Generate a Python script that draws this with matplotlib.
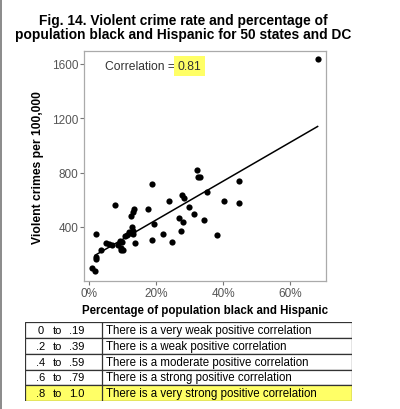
import matplotlib
matplotlib.use('Agg')
import matplotlib.pyplot as plt
import numpy as np
from matplotlib.patches import Rectangle

plt.rcParams['font.family'] = ['Liberation Sans', 'DejaVu Sans']

# データ
pct_black_hispanic = [1.0, 1.7, 2.0, 2.2, 2.2, 3.6, 5.0, 7.0, 7.8, 8.6,
                      9.1, 9.4, 9.9, 10.2, 11.2, 12.2, 12.6, 13.0, 13.4, 12.9,
                      13.2, 13.0, 13.7, 17.5, 18.7, 19.4, 18.8, 22.0, 23.9, 24.7,
                      26.7, 27.4, 28.1, 27.7, 28.3, 29.9, 31.2, 34.3, 35.1, 38.1,
                      40.4, 44.8, 44.6, 32.3, 32.4, 33.2, 68.2, 10.7, 6.0, 11.8, 9.6]
violent_crime = [100, 76, 178, 160, 344, 227, 277, 263, 559, 266,
                 298, 227, 290, 232, 340, 352, 478, 507, 534, 398,
                 372, 344, 283, 534, 714, 422, 304, 350, 592, 286,
                 466, 369, 439, 634, 614, 546, 492, 453, 658, 336,
                 588, 574, 734, 819, 765, 765, 1635, 332, 272, 360, 245]

corr_label = '0.81'
table_ranges = [('0', '.19'), ('.2', '.39'), ('.4', '.59'), ('.6', '.79'), ('.8', '1.0')]
table_text = ['There is a very weak positive correlation',
              'There is a weak positive correlation',
              'There is a moderate positive correlation',
              'There is a strong positive correlation',
              'There is a very strong positive correlation']
highlight_row = 4

YELLOW = '#ffff66'
GREY = '#555555'

fig = plt.figure(figsize=(4, 4.1), dpi=100)

# タイトル
fig.text(0.458, 0.966, 'Fig. 14. Violent crime rate and percentage of\n'
         'population black and Hispanic for 50 states and DC',
         ha='center', va='top', fontsize=9.9, fontweight='bold', linespacing=1.0)

# 散布図
ax = fig.add_axes([0.21, 0.312, 0.605, 0.561])
x = np.array(pct_black_hispanic)
y = np.array(violent_crime)
ax.scatter(x, y, s=20, color='black', zorder=3, linewidths=0)

# 回帰直線
slope, intercept = np.polyfit(x, y, 1)
xl = np.array([1.8, x.max()])
ax.plot(xl, slope * xl + intercept, color='black', lw=1.1, zorder=2)

ax.set_xlim(-1.5, 70.7)
ax.set_ylim(0, 1695)
ax.set_xticks([0, 20, 40, 60])
ax.set_xticklabels(['0%', '20%', '40%', '60%'])
ax.set_yticks([400, 800, 1200, 1600])
for s in ax.spines.values():
    s.set_color('#aaaaaa')
    s.set_linewidth(0.9)
ax.tick_params(length=3, color='#777777', labelcolor=GREY, labelsize=8.5, pad=1)
ax.set_xlabel('Percentage of population black and Hispanic', fontsize=8.3,
              fontweight='bold', labelpad=4)
ax.set_ylabel('Violent crimes per 100,000', fontsize=8.7, fontweight='bold', labelpad=6)

t = ax.text(0.085, 0.935, 'Correlation = ', transform=ax.transAxes, fontsize=8.7,
            color='#333333', va='center', ha='left')
fig.canvas.draw()
bb = t.get_window_extent().transformed(ax.transAxes.inverted())
ax.text(bb.x1, 0.935, corr_label, transform=ax.transAxes, fontsize=8.7,
        color='#333333', va='center', ha='left',
        bbox=dict(boxstyle='square,pad=0.3', fc=YELLOW, ec='none'))

# 相関の目安表
tax = fig.add_axes([25 / 400, 1 - 402 / 410, 327 / 400, 78.7 / 410])
n = len(table_text)
tax.set_xlim(0, 327)
tax.set_ylim(n, 0)
tax.axis('off')
for i, ((lo, hi), txt) in enumerate(zip(table_ranges, table_text)):
    fc = YELLOW if i == highlight_row else 'white'
    tax.add_patch(Rectangle((0, i), 327, 1, fc=fc, ec='#333333', lw=0.9))
    tax.text(15.7, i + 0.5, lo, ha='center', va='center', fontsize=8)
    tax.text(32.5, i + 0.5, 'to', ha='center', va='center', fontsize=8)
    tax.text(51.7, i + 0.5, hi, ha='center', va='center', fontsize=8)
    tax.text(81, i + 0.5, txt, ha='left', va='center', fontsize=8.3)
tax.plot([77.3, 77.3], [0, n], color='#333333', lw=0.9)

# 左端の枠線
fig.add_artist(plt.Line2D([0.002, 0.002], [0, 1], color='#777777', lw=1.2))

fig.savefig('out.png', dpi=100)
